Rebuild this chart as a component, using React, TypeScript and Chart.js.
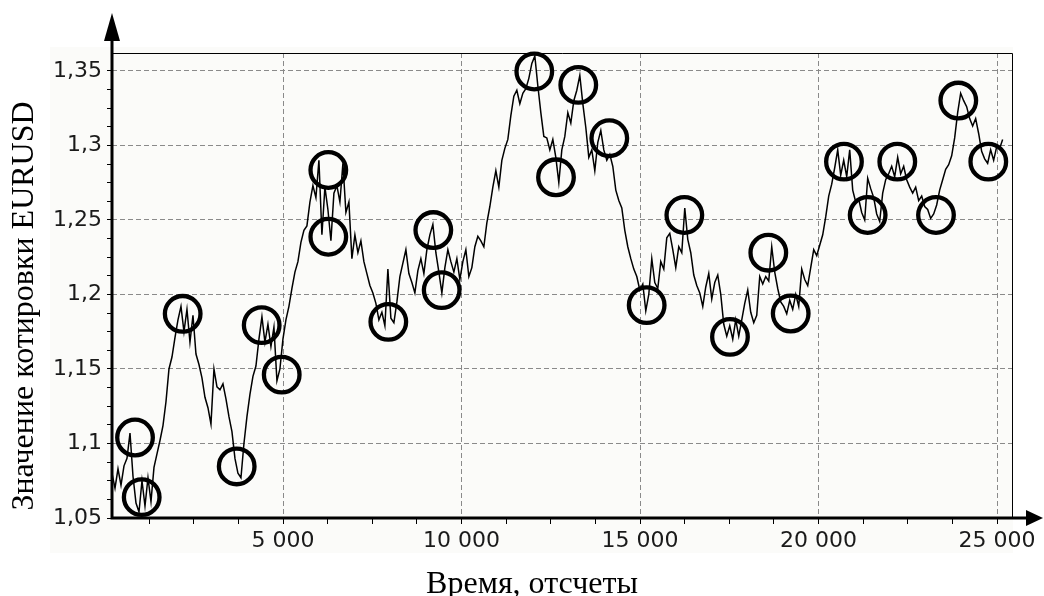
import { useEffect, useRef } from "react";
import { Chart, registerables } from "chart.js";

Chart.register(...registerables);

// ---- data ----
const SAMPLE_START = 210; // time of first sample, "отсчеты"
const SAMPLE_STEP = 84; // time between plotted samples

const quoteValues = [
  1.08, 1.07, 1.083, 1.072, 1.085, 1.09, 1.107, 1.078, 1.06, 1.054,
  1.075, 1.058, 1.077, 1.061, 1.084, 1.093, 1.102, 1.112, 1.128, 1.15,
  1.158, 1.171, 1.183, 1.192, 1.175, 1.19, 1.168, 1.186, 1.16, 1.153,
  1.144, 1.131, 1.124, 1.113, 1.15, 1.138, 1.136, 1.14, 1.13, 1.118,
  1.108, 1.09, 1.08, 1.077, 1.1, 1.118, 1.133, 1.145, 1.152, 1.17,
  1.185, 1.168, 1.18, 1.165, 1.178, 1.142, 1.15, 1.17, 1.183, 1.192,
  1.204, 1.215, 1.222, 1.235, 1.243, 1.246, 1.262, 1.273, 1.265, 1.29,
  1.24, 1.272, 1.257, 1.236, 1.268, 1.273, 1.262, 1.288, 1.255, 1.262,
  1.224, 1.24, 1.228, 1.236, 1.222, 1.214, 1.206, 1.201, 1.194, 1.183,
  1.188, 1.179, 1.217, 1.184, 1.181, 1.195, 1.212, 1.221, 1.23, 1.214,
  1.208, 1.201, 1.216, 1.224, 1.214, 1.23, 1.24, 1.247, 1.228, 1.215,
  1.201, 1.218, 1.23, 1.222, 1.215, 1.224, 1.21, 1.222, 1.23, 1.212,
  1.218, 1.232, 1.239, 1.236, 1.232, 1.248, 1.259, 1.272, 1.283, 1.272,
  1.29, 1.298, 1.304, 1.32, 1.333, 1.337, 1.328, 1.335, 1.338, 1.345,
  1.355, 1.36, 1.34, 1.322, 1.306, 1.305, 1.297, 1.304, 1.292, 1.275,
  1.297, 1.306, 1.322, 1.315, 1.33, 1.337, 1.347, 1.328, 1.312, 1.292,
  1.297, 1.283, 1.302, 1.31, 1.297, 1.29, 1.294, 1.286, 1.27, 1.263,
  1.258, 1.243, 1.232, 1.224, 1.217, 1.212, 1.203, 1.207, 1.189, 1.2,
  1.224, 1.208, 1.204, 1.222, 1.217, 1.238, 1.241, 1.23, 1.218, 1.232,
  1.228, 1.258, 1.237, 1.228, 1.213, 1.206, 1.201, 1.192, 1.205, 1.214,
  1.197, 1.208, 1.213, 1.2, 1.18, 1.172, 1.179, 1.17, 1.183, 1.172,
  1.183, 1.194, 1.203, 1.188, 1.181, 1.186, 1.212, 1.207, 1.212, 1.209,
  1.232, 1.215, 1.204, 1.195, 1.192, 1.187, 1.196, 1.19, 1.2, 1.192,
  1.217, 1.21, 1.206, 1.218, 1.23, 1.226, 1.233, 1.24, 1.252, 1.266,
  1.274, 1.285, 1.297, 1.28, 1.29, 1.279, 1.297, 1.27, 1.262, 1.264,
  1.255, 1.25, 1.278, 1.271, 1.265, 1.254, 1.249, 1.268, 1.277, 1.281,
  1.286, 1.279, 1.292, 1.281, 1.286, 1.277, 1.272, 1.268, 1.272, 1.263,
  1.266, 1.259, 1.257, 1.251, 1.254, 1.26, 1.27, 1.277, 1.284, 1.287,
  1.293, 1.305, 1.322, 1.335, 1.33, 1.326, 1.318, 1.313, 1.318, 1.308,
  1.296, 1.291, 1.288, 1.297, 1.29, 1.299, 1.298, 1.304,
];

const extremaTimes = [
  855, 1042, 2190, 3703, 4403, 4964, 6269, 6269, 7950, 9210, 9445, 12039,
  12647, 13271, 14140, 15187, 16242, 17520, 18594, 19221, 20713, 21377,
  22207, 23291, 23916, 24756,
];
const extremaValues = [
  1.104, 1.064, 1.187, 1.0846, 1.1794, 1.1462, 1.2835, 1.2387, 1.1816,
  1.2432, 1.2029, 1.3496, 1.2786, 1.3406, 1.3048, 1.1928, 1.2533, 1.1715,
  1.228, 1.1872, 1.2891, 1.2533, 1.2891, 1.2533, 1.3301, 1.2891,
];

// tick positions: labelled (major) ticks and the small minor marks between
const xMajorTicks = [5000, 10000, 15000, 20000, 25000];
const xMinorTicks = [
  1250, 2500, 3750, 6250, 7500, 8750, 11250, 12500, 13750, 16250, 17500,
  18750, 21250, 22500, 23750,
];
const yMajorTicks = [1.05, 1.1, 1.15, 1.2, 1.25, 1.3, 1.35];
const yMinorTicks = [
  1.0625, 1.075, 1.0875, 1.1125, 1.125, 1.1375, 1.1625, 1.175, 1.1875,
  1.2125, 1.225, 1.2375, 1.2625, 1.275, 1.2875, 1.3125, 1.325, 1.3375,
];

const X_MIN = 210;
const X_MAX = 25420;
const Y_MIN = 1.05;
const Y_MAX = 1.362;

const X_TITLE = "Время, отсчеты";
const Y_TITLE = "Значение котировки EURUSD";

// ---- layout ----
const W = 1044;
const H = 596;
const PLOT_LEFT = 112;
const PLOT_RIGHT = 1012;
const PLOT_TOP = 53;
const PLOT_BOTTOM = 518;
const TICK_FONT = "22px 'DejaVu Sans', sans-serif";
const GRID_COLOR = "#8a8a8a";

const isIn = (list: number[], v: number) =>
  list.some((m) => Math.abs(m - v) < 1e-6);

const fmtX = (v: number) => {
  const th = Math.floor(v / 1000);
  const rest = String(Math.round(v % 1000)).padStart(3, "0");
  return th > 0 ? `${th} ${rest}` : String(v);
};
const fmtY = (v: number) =>
  String(Math.round(v * 100) / 100).replace(".", ",");

const toTicks = (a: number[], b: number[]) =>
  [...a, ...b].sort((p, q) => p - q).map((value) => ({ value }));

const decorPlugin = {
  id: "decor",
  beforeDraw(chart: any) {
    const ctx = chart.ctx;
    ctx.save();
    ctx.fillStyle = "#ffffff";
    ctx.fillRect(0, 0, W, H);
    ctx.fillStyle = "#fbfbf9";
    ctx.fillRect(50, 47, 963, 506);
    ctx.restore();
  },
  afterDraw(chart: any) {
    const ctx = chart.ctx;
    const a = chart.chartArea;
    const xs = chart.scales.x;
    ctx.save();
    // thin frame (top and right)
    ctx.strokeStyle = "#000";
    ctx.lineWidth = 1;
    ctx.beginPath();
    ctx.moveTo(a.left, a.top + 0.5);
    ctx.lineTo(a.right + 0.5, a.top + 0.5);
    ctx.lineTo(a.right + 0.5, a.bottom);
    ctx.stroke();

    // thick axes with arrows
    ctx.lineWidth = 3;
    ctx.beginPath();
    ctx.moveTo(a.left, a.bottom + 1.5);
    ctx.lineTo(a.left, 38);
    ctx.moveTo(a.left - 1.5, a.bottom);
    ctx.lineTo(1030, a.bottom);
    ctx.stroke();
    ctx.fillStyle = "#000";
    ctx.beginPath();
    ctx.moveTo(a.left, 13);
    ctx.lineTo(a.left - 8, 41);
    ctx.lineTo(a.left + 8, 41);
    ctx.closePath();
    ctx.fill();
    ctx.beginPath();
    ctx.moveTo(1043, a.bottom);
    ctx.lineTo(1026, a.bottom - 8);
    ctx.lineTo(1026, a.bottom + 8);
    ctx.closePath();
    ctx.fill();

    // x tick labels, placed by the x scale
    ctx.fillStyle = "#1a1a1a";
    ctx.font = TICK_FONT;
    ctx.textAlign = "center";
    ctx.textBaseline = "middle";
    for (const v of xMajorTicks) {
      ctx.fillText(fmtX(v), xs.getPixelForValue(v), a.bottom + 23);
    }

    // axis titles
    ctx.fillStyle = "#000";
    ctx.font = "32px 'Liberation Serif', 'Times New Roman', serif";
    ctx.textBaseline = "alphabetic";
    ctx.textAlign = "center";
    ctx.fillText(X_TITLE, 532, 593);
    ctx.translate(33, 306);
    ctx.rotate(-Math.PI / 2);
    ctx.fillText(Y_TITLE, 0, 0);
    ctx.restore();
  },
};

export default function App() {
  const ref = useRef<HTMLCanvasElement | null>(null);

  useEffect(() => {
    document.body.style.margin = "0";
    const canvas = ref.current;
    if (!canvas) return;

    const linePoints = quoteValues.map((v, i) => ({
      x: SAMPLE_START + i * SAMPLE_STEP,
      y: v,
    }));
    const circlePoints = extremaTimes.map((t, i) => ({
      x: t,
      y: extremaValues[i],
    }));

    const tickFont = { family: "'DejaVu Sans', sans-serif", size: 22 };

    const chart = new Chart(canvas, {
      type: "line",
      data: {
        datasets: [
          {
            type: "scatter",
            data: circlePoints,
            pointStyle: "circle",
            pointRadius: 17.8,
            pointHoverRadius: 17.8,
            pointBorderWidth: 4.3,
            borderColor: "#000",
            pointBorderColor: "#000",
            backgroundColor: "rgba(0,0,0,0)",
            pointBackgroundColor: "rgba(0,0,0,0)",
            clip: false,
          } as any,
          {
            type: "line",
            data: linePoints,
            borderColor: "#000",
            borderWidth: 1.5,
            pointRadius: 0,
            tension: 0,
            fill: false,
          },
        ],
      },
      options: {
        responsive: false,
        animation: false,
        devicePixelRatio: 1,
        events: [],
        layout: {
          padding: {
            left: 0,
            top: PLOT_TOP,
            right: W - PLOT_RIGHT,
            bottom: 0,
          },
        },
        plugins: {
          legend: { display: false },
          tooltip: { enabled: false },
        },
        scales: {
          x: {
            type: "linear",
            position: "bottom",
            min: X_MIN,
            max: X_MAX,
            afterBuildTicks: (s: any) => {
              s.ticks = toTicks(xMajorTicks, xMinorTicks);
            },
            afterFit: (s: any) => {
              s.height = H - PLOT_BOTTOM;
            },
            border: { display: false, dash: [5, 3] },
            grid: {
              color: (c: any) =>
                c.tick && isIn(xMajorTicks, c.tick.value)
                  ? GRID_COLOR
                  : "rgba(0,0,0,0)",
              lineWidth: 1,
              tickColor: "#000",
              tickWidth: 1,
              tickLength: 6,
              tickBorderDash: [],
            } as any,
            ticks: {
              display: false,
              autoSkip: false,
              maxRotation: 0,
              minRotation: 0,
            },
          },
          y: {
            type: "linear",
            min: Y_MIN,
            max: Y_MAX,
            afterBuildTicks: (s: any) => {
              s.ticks = toTicks(yMajorTicks, yMinorTicks);
            },
            afterFit: (s: any) => {
              s.width = PLOT_LEFT;
            },
            border: { display: false, dash: [5, 3] },
            grid: {
              color: (c: any) =>
                c.tick && isIn(yMajorTicks, c.tick.value)
                  ? GRID_COLOR
                  : "rgba(0,0,0,0)",
              lineWidth: 1,
              tickColor: "#000",
              tickWidth: 1,
              tickLength: 5,
              tickBorderDash: [],
            } as any,
            ticks: {
              autoSkip: false,
              padding: 5,
              color: "#1a1a1a",
              font: tickFont,
              callback: (v: any) =>
                isIn(yMajorTicks, Number(v)) ? fmtY(Number(v)) : "",
            },
          },
        },
      },
      plugins: [decorPlugin],
    } as any);

    return () => chart.destroy();
  }, []);

  return (
    <canvas
      ref={ref}
      width={W}
      height={H}
      style={{ position: "fixed", left: 0, top: 0, width: W, height: H }}
    />
  );
}
